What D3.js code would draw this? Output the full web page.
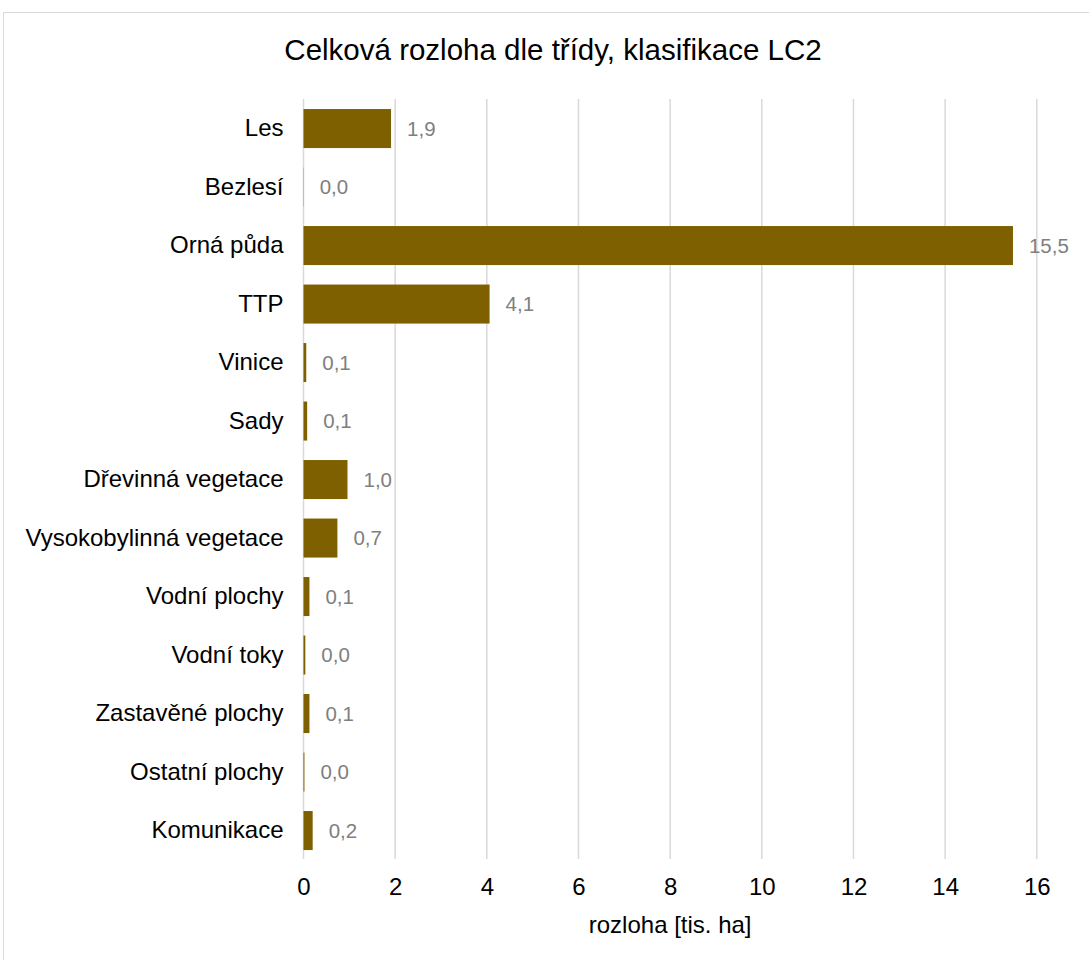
<!DOCTYPE html>
<html><head><meta charset="utf-8">
<script src="https://cdn.jsdelivr.net/npm/d3@7"></script>
<style>body{margin:0;background:#fff}svg{display:block}</style>
</head><body>
<script>
const categories = ["Les","Bezlesí","Orná půda","TTP","Vinice","Sady","Dřevinná vegetace","Vysokobylinná vegetace","Vodní plochy","Vodní toky","Zastavěné plochy","Ostatní plochy","Komunikace"];
const values = [1.91, 0.005, 15.48, 4.06, 0.06, 0.08, 0.96, 0.74, 0.13, 0.04, 0.13, 0.02, 0.2];
const xTicks = [0,2,4,6,8,10,12,14,16];
const title = "Celková rozloha dle třídy, klasifikace LC2";
const xTitle = "rozloha [tis. ha]";

const W = 1089, H = 960;
const svg = d3.select("body").append("svg").attr("width", W).attr("height", H);
const font = "'Liberation Sans', Arial, sans-serif";

svg.append("rect").attr("x", 3.5).attr("y", 12.5).attr("width", W).attr("height", H)
  .attr("fill", "#fff").attr("stroke", "#d9d9d9").attr("stroke-width", 1);

const x = d3.scaleLinear().domain([0, 16]).range([303.5, 1036.8]);
const y = d3.scaleBand().domain(categories).range([99.3, 859.8]).paddingInner(0.333).paddingOuter(0.1665);

// gridlines
svg.append("g").selectAll("line").data(xTicks).join("line")
  .attr("x1", d => x(d)).attr("x2", d => x(d)).attr("y1", 99).attr("y2", 859)
  .attr("stroke", "#d9d9d9").attr("stroke-width", 1.5);

// bars
svg.append("g").selectAll("rect").data(values).join("rect")
  .attr("x", x(0)).attr("y", (d, i) => y(categories[i]))
  .attr("width", d => x(d) - x(0)).attr("height", y.bandwidth())
  .attr("fill", "#7f6000");

// value labels
svg.append("g").selectAll("text").data(values).join("text")
  .attr("x", d => x(d) + 16).attr("y", (d, i) => y(categories[i]) + y.bandwidth() / 2)
  .attr("dy", "0.35em").attr("font-family", font).attr("font-size", 20.5).attr("fill", "#7f7f7f")
  .text(d => d3.format(".1f")(d).replace(".", ","));

// category axis
const yAxis = d3.axisLeft(y).tickSize(0).tickPadding(20);
const gy = svg.append("g").attr("transform", `translate(${x(0)},0)`).call(yAxis);
gy.select(".domain").remove();
gy.selectAll("text").attr("font-family", font).attr("font-size", 24).attr("fill", "#000");

// x axis
const xAxis = d3.axisBottom(x).tickValues(xTicks).tickSize(0).tickPadding(19).tickFormat(d3.format("d"));
const gx = svg.append("g").attr("transform", `translate(0,859)`).call(xAxis);
gx.select(".domain").remove();
gx.selectAll("text").attr("font-family", font).attr("font-size", 24).attr("fill", "#000");

svg.append("text").attr("x", (x(0) + x(16)) / 2).attr("y", 925).attr("dy", "0.35em")
  .attr("text-anchor", "middle").attr("font-family", font).attr("font-size", 24).attr("fill", "#000")
  .text(xTitle);

svg.append("text").attr("x", 553).attr("y", 50).attr("dy", "0.35em")
  .attr("text-anchor", "middle").attr("font-family", font).attr("font-size", 29.5).attr("fill", "#000")
  .text(title);
</script>
</body></html>
